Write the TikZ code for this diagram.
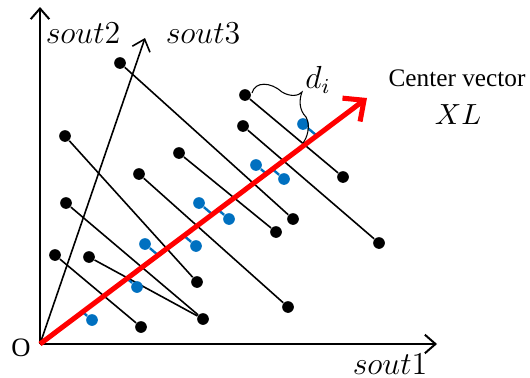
\documentclass[tikz,border=0pt]{standalone}
\usepackage{fontspec}
\newfontfamily\timesfont{Liberation Serif}
\usetikzlibrary{arrows.meta,calc}
\definecolor{ptblue}{RGB}{0,112,192}
\definecolor{vecred}{RGB}{255,0,0}

\tikzset{
  bdot/.style={circle,fill=black,inner sep=0pt,minimum size=4.4pt},
  udot/.style={circle,fill=ptblue,inner sep=0pt,minimum size=4.4pt},
  pline/.style={line width=0.6pt},
  uline/.style={ptblue,line width=0.9pt},
  axis/.style={line width=0.75pt,-{Straight Barb[length=4pt,width=7pt]}},
}

\begin{document}
\begin{tikzpicture}[x=0.376pt,y=-0.376pt]
\useasboundingbox (0,0) rectangle (530,378);
% axes
\coordinate (O) at (40,344);
\coordinate (T) at (367,98);
\node[font=\timesfont\fontsize{10}{12}\selectfont] (olab) at (21,348) {O};
\node (x1) at (437,344) {};
\node (x2) at (40,7) {};
\node (x3) at (145,38) {};
\draw[axis] (O) -- (x1.center);
\draw[axis] (O) -- (x2.center);
\draw[axis,line width=0.6pt] (O) -- (x3.center);
\node[font=\fontsize{11.5}{14}\selectfont] (l1) at (390,364) {$sout1$};
\node[font=\fontsize{11.5}{14}\selectfont] (l2) at (83,33) {$sout2$};
\node[font=\fontsize{11.5}{14}\selectfont] (l3) at (203,33) {$sout3$};
% sample points
\node[bdot] (A) at (120,63) {};
\node[bdot] (B) at (65,136) {};
\node[bdot] (C) at (179,153) {};
\node[bdot] (D) at (139,174) {};
\node[bdot] (E) at (245,95) {};
\node[bdot] (F) at (243,126) {};
\node[bdot] (G) at (66,203) {};
\node[bdot] (H) at (55,255) {};
\node[bdot] (I) at (89,257) {};
\node[bdot] (J) at (197,282) {};
\node[bdot] (K) at (203,319) {};
\node[bdot] (L) at (141,327) {};
\node[bdot] (M) at (343,177) {};
\node[bdot] (N) at (293,219) {};
\node[bdot] (P) at (276,232) {};
\node[bdot] (Q) at (379,243) {};
\node[bdot] (R) at (288,307) {};
\draw[pline] (E) -- (M);
\draw[pline] (F) -- (Q);
\draw[pline] (A) -- (N);
\draw[pline] (C) -- (P);
\draw[pline] (D) -- (R);
\draw[pline] (B) -- (J);
\draw[pline] (G) -- (K);
\draw[pline] (H) -- (L);
\draw[pline] (I) -- (K);
% projections
\node[udot] (b1) at (92,320) {};
\node[udot] (b2) at (137,287) {};
\node[udot] (b3) at (145,244) {};
\node[udot] (b4) at (196,246) {};
\node[udot] (b5) at (199,203) {};
\node[udot] (b6) at (229,219) {};
\node[udot] (b7) at (256,165) {};
\node[udot] (b8) at (284,179) {};
\node[udot] (b9) at (303,124) {};
\coordinate (f1) at (82.6,312.0);
\coordinate (f2) at (127.0,278.5);
\coordinate (f3) at (158.1,255.2);
\coordinate (f4) at (183.9,235.7);
\coordinate (f5) at (212.3,214.3);
\coordinate (f6) at (218.3,209.9);
\coordinate (f7) at (266.3,173.7);
\coordinate (f8) at (272.4,169.1);
\coordinate (f9) at (316.8,135.7);
\foreach \i in {1,...,9}
  \draw[uline] (b\i) -- (f\i);
% center vector
\draw[vecred,line width=1.9pt,-{Straight Barb[length=6pt,width=11pt]}] (O) -- (T);
\node[font=\timesfont\fontsize{9.5}{12}\selectfont] (cv) at (457,78) {Center vector};
\node[font=\fontsize{11}{13}\selectfont] (xl) at (458,115) {$XL$};
% distance brace
\draw[line width=0.4pt] (252,93) .. controls (255,81) and (271,82) .. (282,92)
  .. controls (290,97) and (299,96) .. (302,92)
  .. controls (299,100) and (299,110) .. (306,117)
  .. controls (311,126) and (307,138) .. (303,143);
\node[font=\fontsize{11.5}{14}\selectfont] (di) at (318,80) {$d_i$};
\end{tikzpicture}
\end{document}
